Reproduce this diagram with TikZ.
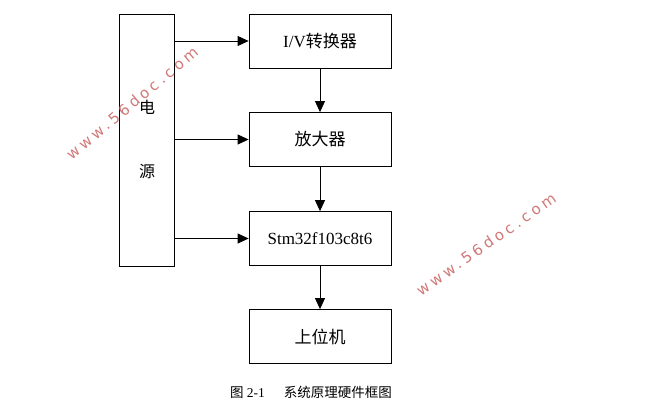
\documentclass[tikz,border=0pt]{standalone}
\usepackage{fontspec}
\setmainfont{Liberation Serif}
\newfontfamily\cjk{Noto Sans CJK SC}
\newfontfamily\wmfont[LetterSpace=24]{DejaVu Sans}
\usetikzlibrary{arrows.meta}
\definecolor{wmred}{RGB}{210,120,120}
\begin{document}
\begin{tikzpicture}[x=1pt,y=-1pt,
  blk/.style={draw,line width=0.8pt,minimum width=142pt,minimum height=54pt,inner sep=0pt,font=\fontsize{17}{17}\selectfont},
  arr/.style={-{Triangle[length=11pt,width=10pt]},line width=0.8pt},
  wm/.style={text=wmred,font=\wmfont\fontsize{15}{15}\selectfont}]
\useasboundingbox (0,0) rectangle (653,417);
\node[draw,line width=0.8pt,minimum width=55pt,minimum height=252pt,inner sep=0pt] (pwr) at (146.5,140) {};
\node[font=\cjk\fontsize{16}{16}\selectfont] (d1) at (147,107) {电};
\node[font=\cjk\fontsize{16}{16}\selectfont] (d2) at (147,172) {源};
\node[blk] (iv) at (320,41) {I/V{\cjk 转换器}};
\node[blk] (amp) at (320,139.5) {\cjk 放大器};
\node[blk] (mcu) at (320,238.5) {Stm32f103c8t6};
\node[blk] (pc) at (320,336.5) {\cjk 上位机};
\draw[arr] (pwr.east |- iv.west) -- (iv.west);
\draw[arr] (pwr.east |- amp.west) -- (amp.west);
\draw[arr] (pwr.east |- mcu.west) -- (mcu.west);
\draw[arr] (iv) -- (amp);
\draw[arr] (amp) -- (mcu);
\draw[arr] (mcu) -- (pc);
\node[font=\fontsize{13.5}{13.5}\selectfont] (cap) at (311,392) {{\cjk 图} 2-1\hspace{1.4em}{\cjk 系统原理硬件框图}};
\node[wm,rotate=40] (wm1) at (132,103) {www.56doc.com};
\node[wm,rotate=35] (wm2) at (486,244) {www.56doc.com};
\end{tikzpicture}
\end{document}
